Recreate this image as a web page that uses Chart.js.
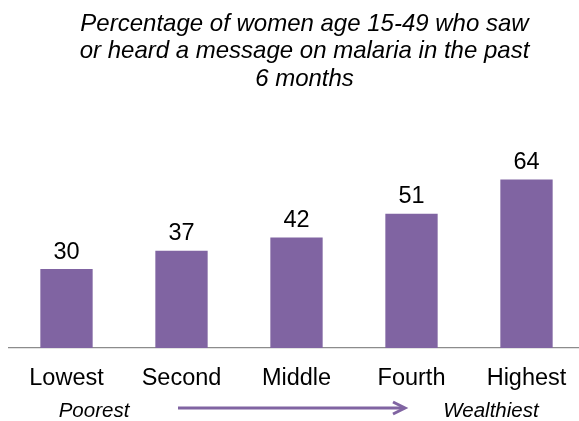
<!DOCTYPE html>
<html>
<head>
<meta charset="utf-8">
<script src="https://cdn.jsdelivr.net/npm/chart.js@4/dist/chart.umd.min.js"></script>
<style>
    html, body { margin: 0; padding: 0; background: #fff; overflow: hidden; }
    #wrap { width: 579px; height: 421px; overflow: hidden; }
</style>
</head>
<body>
<div id="wrap"><canvas id="wealthChart" width="585" height="421"></canvas></div>
<script>
// data
const quintiles = ['Lowest', 'Second', 'Middle', 'Fourth', 'Highest'];
const sawMessage = [30, 37, 42, 51, 64];
const titleLines = [
    'Percentage of women age 15-49 who saw',
    'or heard a message on malaria in the past',
    '6 months'
];
const leftNote = 'Poorest';
const rightNote = 'Wealthiest';

const FONT = '"Liberation Sans", Arial, sans-serif';
const PURPLE = '#8064A2';

// value labels above bars
const valueLabels = {
    id: 'valueLabels',
    afterDatasetsDraw(chart) {
        const ctx = chart.ctx;
        const meta = chart.getDatasetMeta(0);
        ctx.save();
        ctx.font = '23.5px ' + FONT;
        ctx.fillStyle = '#000';
        ctx.textAlign = 'center';
        ctx.textBaseline = 'alphabetic';
        meta.data.forEach((bar, i) => {
            ctx.fillText(String(sawMessage[i]), bar.x, bar.y - 10.5);
        });
        ctx.restore();
    }
};

// title on top + poorest/wealthiest arrow below
const captions = {
    id: 'captions',
    afterDraw(chart) {
        const ctx = chart.ctx;
        ctx.save();
        ctx.fillStyle = '#000';
        ctx.textAlign = 'center';
        ctx.textBaseline = 'alphabetic';
        ctx.font = 'italic 24px ' + FONT;
        titleLines.forEach((line, i) => {
            ctx.fillText(line, 304.5, 30.7 + i * 27.4);
        });

        ctx.font = 'italic 20.5px ' + FONT;
        ctx.fillText(leftNote, 94, 416.5);
        ctx.fillText(rightNote, 491, 416.5);

        // arrow
        ctx.strokeStyle = PURPLE;
        ctx.lineWidth = 3;
        ctx.beginPath();
        ctx.moveTo(178, 408);
        ctx.lineTo(404, 408);
        ctx.stroke();
        ctx.beginPath();
        ctx.moveTo(393, 402);
        ctx.lineTo(405, 408);
        ctx.lineTo(393, 414);
        ctx.stroke();
        ctx.restore();
    }
};

const ctx = document.getElementById('wealthChart').getContext('2d');
const wealthChart = new Chart(ctx, {
    type: 'bar',
    data: {
        labels: quintiles,
        datasets: [{
            data: sawMessage,
            backgroundColor: PURPLE,
            borderWidth: 0,
            barPercentage: 0.455,
            categoryPercentage: 1
        }]
    },
    options: {
        responsive: false,
        animation: false,
        devicePixelRatio: 1,
        layout: {
            padding: { left: 9, right: 1, top: 137.4, bottom: 11.3 }
        },
        scales: {
            x: {
                grid: { display: false, drawTicks: false },
                border: { display: true, color: '#8c8c8c', width: 1.3 },
                ticks: {
                    color: '#000',
                    padding: 16.7,
                    font: { family: FONT, size: 23.5 }
                }
            },
            y: {
                display: false,
                min: 0,
                max: 80
            }
        },
        plugins: {
            legend: { display: false },
            tooltip: { enabled: false }
        }
    },
    plugins: [valueLabels, captions]
});
</script>
</body>
</html>
